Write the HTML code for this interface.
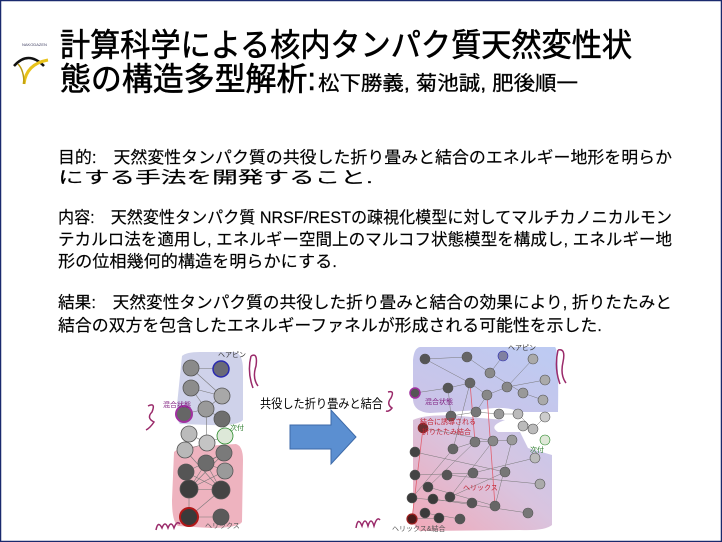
<!DOCTYPE html>
<html><head><meta charset="utf-8"><style>
html,body{margin:0;padding:0;background:#fff}
svg{display:block}
text{font-family:"Liberation Sans","Noto Sans CJK JP",sans-serif}
</style></head><body>
<svg width="722" height="542" viewBox="0 0 722 542" xmlns="http://www.w3.org/2000/svg">
<defs>
<linearGradient id="g1" x1="0" y1="1" x2="1" y2="0">
<stop offset="0" stop-color="#f1a9b8"/><stop offset="0.55" stop-color="#d9c4df"/><stop offset="1" stop-color="#c3c9ee"/>
</linearGradient>
<linearGradient id="g2" x1="0" y1="1" x2="1" y2="0">
<stop offset="0" stop-color="#cdc3e6"/><stop offset="1" stop-color="#bccbf3"/>
</linearGradient>
</defs>
<rect x="0.5" y="0.5" width="721" height="541" fill="#fff" stroke="#1a2a6e" stroke-width="1.5"/>
<!-- logo -->
<text x="22" y="46" font-size="4" fill="#446">NAKODAZEN</text>
<path d="M14,66 Q28,50 44,66" fill="none" stroke="#111" stroke-width="2.5"/>
<path d="M24,84 Q26,64 48,60" fill="none" stroke="#e8c21a" stroke-width="3"/>
<path d="M24,84 Q24,70 18,64" fill="none" stroke="#b89a10" stroke-width="1.5"/>
<!-- title -->
<g stroke="#000" stroke-width="0.6">
<text x="60" y="56" font-size="32" textLength="572" lengthAdjust="spacingAndGlyphs">計算科学による核内タンパク質天然変性状</text>
<text x="60" y="90" font-size="32" textLength="256" lengthAdjust="spacingAndGlyphs">態の構造多型解析:</text>
</g>
<text x="318" y="90" font-size="20" textLength="260" lengthAdjust="spacingAndGlyphs" stroke="#000" stroke-width="0.3">松下勝義, 菊池誠, 肥後順一</text>
<!-- body -->
<g font-size="16.5" fill="#000" stroke="#000" stroke-width="0.15">
<text x="58" y="163" textLength="614" lengthAdjust="spacingAndGlyphs">目的:　天然変性タンパク質の共役した折り畳みと結合のエネルギー地形を明らか</text>
<text x="58" y="183" textLength="315" lengthAdjust="spacingAndGlyphs">にする手法を開発すること.</text>
<text x="58" y="223" textLength="614" lengthAdjust="spacingAndGlyphs">内容:　天然変性タンパク質 NRSF/RESTの疎視化模型に対してマルチカノニカルモン</text>
<text x="58" y="245" textLength="614" lengthAdjust="spacingAndGlyphs">テカルロ法を適用し, エネルギー空間上のマルコフ状態模型を構成し, エネルギー地</text>
<text x="58" y="267" textLength="279" lengthAdjust="spacingAndGlyphs">形の位相幾何的構造を明らかにする.</text>
<text x="58" y="308" textLength="614" lengthAdjust="spacingAndGlyphs">結果:　天然変性タンパク質の共役した折り畳みと結合の効果により, 折りたたみと</text>
<text x="58" y="331" textLength="544" lengthAdjust="spacingAndGlyphs">結合の双方を包含したエネルギーファネルが形成される可能性を示した.</text>
</g>
<!-- left diagram -->
<path d="M182,356 Q186,352 200,352 L235,352 Q243,354 243,370 L243,420 Q238,426 210,425 L180,424 Q176,420 177,405 Z" fill="#cfd2ea"/>
<path d="M174,452 Q180,446 205,446 L236,444 Q243,446 243,460 L242,522 Q238,528 210,528 L178,526 Q172,522 172,500 Z" fill="#eeb3bf"/>
<g stroke="#777" stroke-width="0.6" fill="none">
<path d="M191,368 L221,369 M191,368 L222,396 M191,388 L222,396 M191,388 L206,409 M222,396 L206,409 M206,409 L222,419 M206,409 L207,443 M184,414 L206,409 M189,434 L207,443 M225,436 L207,443 M185,450 L207,443 M224,453 L186,472 M206,463 L189,489 M206,463 L221,490 M224,453 L189,489 M186,472 L221,490 M225,471 L189,489 M189,489 L221,490 M189,517 L221,517 M189,489 L189,517 M221,490 L189,517 M206,463 L225,471 M224,453 L206,463 M185,450 L221,490"/>
</g>
<g stroke="#555" stroke-width="0.8">
<circle cx="191" cy="368" r="8" fill="#8a8a8a"/>
<circle cx="221" cy="369" r="8" fill="#6a6a76" stroke="#2a2ab0" stroke-width="1.5"/>
<circle cx="191" cy="388" r="8" fill="#8c8c8c"/>
<circle cx="222" cy="396" r="8" fill="#a8a8a8"/>
<circle cx="206" cy="409" r="8" fill="#9a9a9a"/>
<circle cx="184" cy="414" r="8" fill="#666" stroke="#a030a0" stroke-width="2"/>
<circle cx="222" cy="419" r="8" fill="#6e6e6e"/>
<circle cx="189" cy="434" r="8" fill="#bbb"/>
<circle cx="207" cy="443" r="8" fill="#c4c4c4"/>
<circle cx="225" cy="436" r="8" fill="#dde8d8" stroke="#2a8a2a"/>
<circle cx="185" cy="450" r="8" fill="#b8b8b8"/>
<circle cx="224" cy="453" r="8" fill="#7a7a7a"/>
<circle cx="206" cy="463" r="8" fill="#6c6c6c"/>
<circle cx="186" cy="472" r="8" fill="#555"/>
<circle cx="225" cy="471" r="8" fill="#9a9a9a"/>
<circle cx="189" cy="489" r="9" fill="#3e3e3e"/>
<circle cx="221" cy="490" r="9" fill="#444"/>
<circle cx="189" cy="517" r="9" fill="#3a3a3a" stroke="#b01818" stroke-width="2"/>
<circle cx="221" cy="517" r="8" fill="#5a5a5a"/>
</g>
<g font-size="7">
<text x="218" y="357" fill="#333">ヘアピン</text>
<text x="163" y="407" fill="#802080">混合状態</text>
<text x="230" y="430" fill="#2a7a2a">次付</text>
<text x="205" y="528" fill="#555">ヘリックス</text>
</g>
<g fill="none" stroke="#9a2a6a" stroke-width="1.5">
<path d="M251,356 Q258,352 256,366 Q252,378 258,386 M251,356 Q247,372 253,388"/>
<path d="M148,406 Q156,402 152,412 Q146,418 154,422 Q150,428 146,430"/>
<path d="M156,530 Q158,520 162,528 Q165,520 168,528 Q171,520 174,528 Q177,520 180,524"/>
</g>
<!-- arrow -->
<text x="260" y="408" font-size="12.5" textLength="123" lengthAdjust="spacingAndGlyphs">共役した折り畳みと結合</text>
<path d="M290,425 L331,425 L331,410 L356,437 L331,464 L331,449 L290,449 Z" fill="#5b8fd1" stroke="#3d6aa8" stroke-width="1"/>
<!-- right diagram -->
<path d="M413,420 Q430,412 480,418 L505,420 Q488,426 498,432 L520,432 L528,448 L552,455 L552,525 Q545,531 520,530 L420,531 Q413,528 413,515 Z" fill="url(#g1)"/>
<path d="M420,347 L555,347 Q559,350 558,412 L520,412 Q505,405 480,410 L430,413 Q414,412 413,400 L413,360 Q414,348 420,347 Z" fill="url(#g2)"/>
<g stroke="#777" stroke-width="0.5" fill="none">
<path d="M425,359 L470,383 M467,357 L490,373 M490,373 L523,393 M448,388 L470,383 M470,383 L487,395 M487,395 L507,387 M507,387 L545,380 M487,395 L476,412 M451,416 L476,412 M476,412 L499,414 M499,414 L518,414 M523,426 L533,429 M518,414 L533,429 M545,417 L533,429 M423,428 L493,441 M453,449 L475,442 M475,442 L512,440 M415,452 L505,472 M415,475 L473,473 M447,475 L540,484 M428,487 L495,506 M412,498 L472,503 M433,499 L528,513 M425,513 L460,519 M412,519 L439,518 M450,497 L505,472 M473,473 L535,458 M533,359 L507,387 M543,400 L523,393 M503,356 L490,373 M453,449 L412,498 M475,442 L428,487 M493,441 L450,497 M512,440 L495,506 M448,388 L451,416 M470,383 L453,449 M425,359 L467,357 M415,393 L448,388"/>
<path d="M470,383 L475,442 M487,395 L495,506 M423,428 L412,519" stroke="#e06070" stroke-width="0.8"/>
</g>
<g stroke="#555" stroke-width="0.6">
<circle cx="425" cy="359" r="5" fill="#555"/>
<circle cx="467" cy="357" r="5" fill="#666"/>
<circle cx="503" cy="356" r="5" fill="#8080a0" stroke="#2a2ab0"/>
<circle cx="533" cy="359" r="5" fill="#aaa"/>
<circle cx="490" cy="373" r="5" fill="#8a8a8a"/>
<circle cx="470" cy="383" r="5" fill="#666"/>
<circle cx="448" cy="388" r="5" fill="#555"/>
<circle cx="507" cy="387" r="5" fill="#888"/>
<circle cx="545" cy="380" r="5" fill="#aaa"/>
<circle cx="523" cy="393" r="5" fill="#999"/>
<circle cx="487" cy="395" r="5" fill="#888"/>
<circle cx="543" cy="400" r="5" fill="#aaa"/>
<circle cx="415" cy="393" r="5" fill="#555" stroke="#a030a0" stroke-width="1.5"/>
<circle cx="451" cy="416" r="5" fill="#666"/>
<circle cx="476" cy="412" r="5" fill="#777"/>
<circle cx="499" cy="414" r="5" fill="#999"/>
<circle cx="518" cy="414" r="5" fill="#bbb"/>
<circle cx="545" cy="417" r="5" fill="#ccc"/>
<circle cx="523" cy="426" r="5" fill="#bbb"/>
<circle cx="533" cy="429" r="5" fill="#bbb"/>
<circle cx="545" cy="440" r="5" fill="#dfe8d8" stroke="#2a8a2a"/>
<circle cx="423" cy="428" r="5" fill="#6a3030" stroke="#a02020"/>
<circle cx="453" cy="449" r="5" fill="#666"/>
<circle cx="475" cy="442" r="5" fill="#777"/>
<circle cx="493" cy="441" r="5" fill="#888"/>
<circle cx="512" cy="440" r="5" fill="#999"/>
<circle cx="415" cy="452" r="5" fill="#444"/>
<circle cx="535" cy="458" r="5" fill="#bbb"/>
<circle cx="415" cy="475" r="5" fill="#444"/>
<circle cx="447" cy="475" r="5" fill="#555"/>
<circle cx="473" cy="473" r="5" fill="#666"/>
<circle cx="505" cy="472" r="5" fill="#777"/>
<circle cx="540" cy="484" r="5" fill="#aaa"/>
<circle cx="428" cy="487" r="5" fill="#444"/>
<circle cx="450" cy="497" r="5" fill="#444"/>
<circle cx="412" cy="498" r="5" fill="#3a3a3a"/>
<circle cx="433" cy="499" r="5" fill="#3a3a3a"/>
<circle cx="472" cy="503" r="5" fill="#555"/>
<circle cx="495" cy="506" r="5" fill="#666"/>
<circle cx="528" cy="513" r="5" fill="#777"/>
<circle cx="425" cy="513" r="5" fill="#3a3a3a"/>
<circle cx="439" cy="518" r="5" fill="#3a3a3a"/>
<circle cx="460" cy="519" r="5" fill="#555"/>
<circle cx="412" cy="519" r="5" fill="#4a1a1a" stroke="#a02020" stroke-width="1.2"/>
</g>
<g font-size="7">
<text x="508" y="350" fill="#333">ヘアピン</text>
<text x="425" y="404" fill="#802080">混合状態</text>
<text x="420" y="424" fill="#c02030">結合に誘導される</text>
<text x="422" y="434" fill="#c02030">折りたたみ結合</text>
<text x="530" y="452" fill="#2a7a2a">次付</text>
<text x="463" y="490" fill="#c02030">ヘリックス</text>
<text x="392" y="531" fill="#555">ヘリックス&amp;結合</text>
</g>
<g fill="none" stroke="#9a2a6a" stroke-width="1.5">
<path d="M558,350 Q566,348 563,362 Q560,375 566,383 M558,350 Q554,368 560,384"/>
<path d="M388,392 Q395,390 391,398 Q386,404 392,408 Q389,412 386,411"/>
<path d="M356,528 Q358,516 362,526 Q365,516 368,526 Q371,516 374,526 Q377,516 380,520"/>
</g>
</svg>
</body></html>
